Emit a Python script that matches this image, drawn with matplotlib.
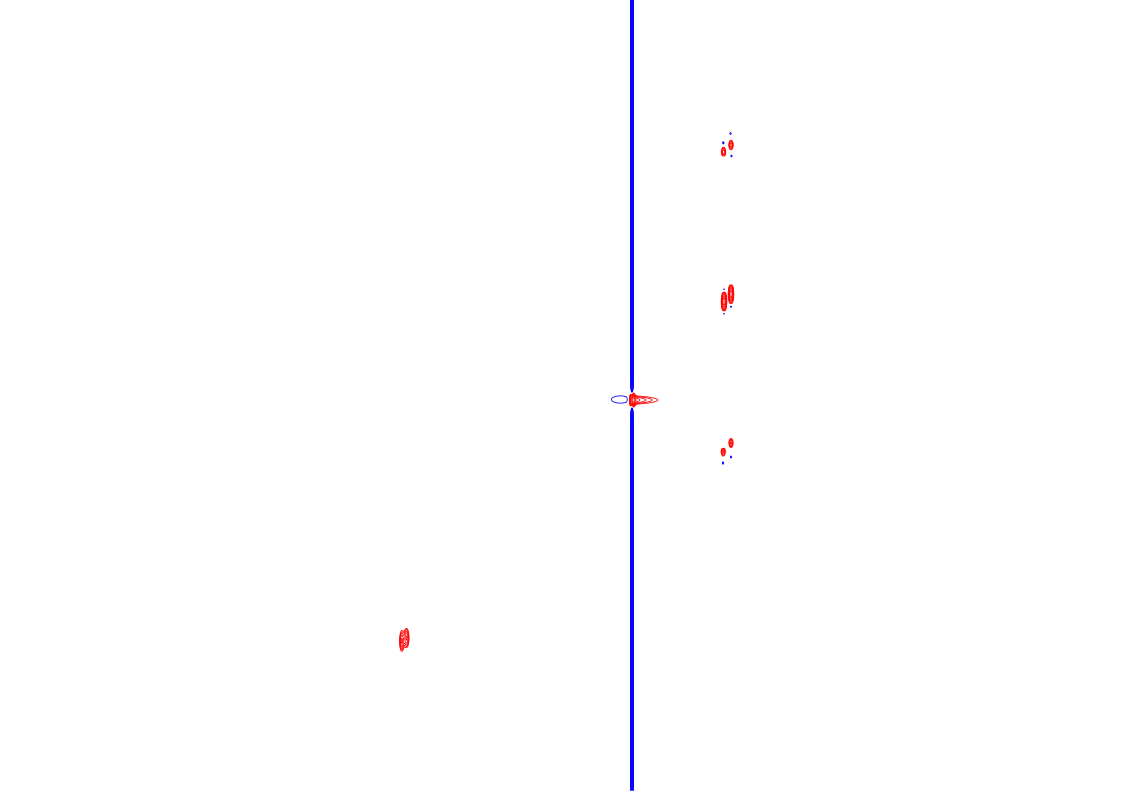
import numpy as np
import matplotlib
matplotlib.use("Agg")
import matplotlib.pyplot as plt

# spectrum window (F2 horizontal, F1 vertical, same units as the picture)
f2_range = (0, 1133)
f1_range = (0, 791)

# gaussian peaks: centre F2, centre F1, amplitude, width F2, width F1
peak_f2 = [723.5, 731.0, 723.3, 723.3, 730.5, 731.5,
           724.0, 731.0, 724.0, 724.0, 731.0, 731.0,
           723.2, 731.0, 723.0, 731.0, 723.0,
           401.8, 406.5, 632.0]
peak_f1 = [152.0, 145.0, 143.0, 158.5, 133.5, 156.0,
           301.5, 294.0, 289.5, 313.5, 282.5, 306.5,
           451.5, 443.0, 463.0, 457.0, 446.0,
           641.0, 638.0, 400.0]
peak_amp = [2.6, 2.6, -1.5, -1.4, -1.3, -1.3,
            4.5, 4.5, -1.7, -1.7, -1.7, -1.7,
            2.4, 2.4, -1.4, -1.3, -1.4,
            3.0, 3.0, 6.0]
peak_sw2 = [1.6, 1.6, 0.9, 0.9, 0.9, 0.9,
            1.6, 1.6, 1.0, 1.0, 1.0, 1.0,
            1.6, 1.6, 0.9, 0.9, 0.9,
            1.5, 1.7, 1.6]
peak_sw1 = [3.5, 3.5, 1.5, 1.5, 1.5, 1.5,
            6.0, 6.0, 1.4, 1.4, 1.4, 1.4,
            3.5, 3.5, 1.5, 1.5, 1.8,
            7.0, 6.5, 5.5]

# dispersive artefact on the big peak: positive tail to the right, negative lobe to the left
tail_f2, tail_f1, tail_amp, tail_decay, tail_sw1 = 634.0, 400.0, 3.7, 19.0, 3.4
lobe_f2, lobe_f1, lobe_amp, lobe_sw2, lobe_sw1 = 620.5, 399.5, -1.2, 15.0, 6.0

# t1 noise ridge (negative)
ridge_f2, ridge_amp, ridge_sw2 = 632.0, -3.0, 0.9

base_level = 1.0
level_factor = 1.3
n_levels = 10

x = np.arange(f2_range[0], f2_range[1], 0.5)
y = np.arange(f1_range[0], f1_range[1], 0.5)
X, Y = np.meshgrid(x, y)

Z = ridge_amp * np.exp(-(X - ridge_f2) ** 2 / (2 * ridge_sw2 ** 2)) * np.ones_like(Y)
for px, py, a, sx, sy in zip(peak_f2, peak_f1, peak_amp, peak_sw2, peak_sw1):
    Z += a * np.exp(-(X - px) ** 2 / (2 * sx ** 2) - (Y - py) ** 2 / (2 * sy ** 2))

dx = X - tail_f2
tail_x = np.where(dx >= 0, np.exp(-dx / tail_decay), np.exp(-dx ** 2 / (2 * 2.0 ** 2)))
Z += tail_amp * tail_x * np.exp(-(Y - tail_f1) ** 2 / (2 * tail_sw1 ** 2))
Z += lobe_amp * np.exp(-(X - lobe_f2) ** 2 / (2 * lobe_sw2 ** 2) - (Y - lobe_f1) ** 2 / (2 * lobe_sw1 ** 2))

pos_levels = base_level * level_factor ** np.arange(n_levels)
neg_levels = -pos_levels[::-1]

fig = plt.figure(figsize=(11.33, 7.91), dpi=100)
ax = fig.add_axes([0, 0, 1, 1])
ax.contour(X, Y, Z, levels=pos_levels, colors="#ff0000", linewidths=0.6, linestyles="solid")
ax.contour(X, Y, Z, levels=neg_levels, colors="#0000ff", linewidths=0.6, linestyles="solid")
ax.set_xlim(*f2_range)
ax.set_ylim(f1_range[1], f1_range[0])
ax.axis("off")

fig.savefig("out.png", dpi=100, facecolor="white")
